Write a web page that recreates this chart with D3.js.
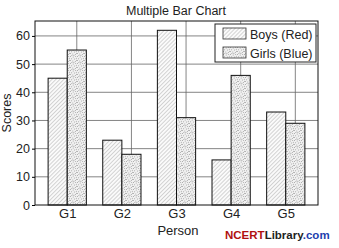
<!DOCTYPE html>
<html>
<head>
<meta charset="utf-8">
<script src="https://cdn.jsdelivr.net/npm/d3@7"></script>
<style>
  body { margin: 0; background: #fff; }
  svg text { font-family: "Liberation Sans", Arial, sans-serif; fill: #222; }
</style>
</head>
<body>
<div class="chart"></div>
<script>
// 資料
const persons = ['G1', 'G2', 'G3', 'G4', 'G5']
const boys = [45, 23, 62, 16, 33]
const girls = [55, 18, 31, 46, 29]
const yTicks = [0, 10, 20, 30, 40, 50, 60]
const seriesNames = ['Boys (Red)', 'Girls (Blue)']

const width = 339, height = 248
const mLeft = 35, mRight = 318, mTop = 21, mBottom = 205
const barW = 0.35

const svg = d3.select('.chart').append('svg')
  .attr('width', width).attr('height', height)

// 花紋
const defs = svg.append('defs')
const hatch = defs.append('pattern')
  .attr('id', 'hatch').attr('patternUnits', 'userSpaceOnUse')
  .attr('width', 2.8).attr('height', 2.8)
  .attr('patternTransform', 'rotate(45)')
hatch.append('rect').attr('width', 2.8).attr('height', 2.8).attr('fill', '#fafafa')
hatch.append('line').attr('x1', 0).attr('y1', 0).attr('x2', 0).attr('y2', 2.8)
  .attr('stroke', '#8a8a8a').attr('stroke-width', 0.7)

const dots = defs.append('pattern')
  .attr('id', 'dots').attr('patternUnits', 'userSpaceOnUse')
  .attr('width', 7).attr('height', 7)
dots.append('rect').attr('width', 7).attr('height', 7).attr('fill', '#f1f1f1')
const dotPos = [[0.5, 0.5], [3.2, 1.1], [5.6, 0.3], [1.6, 2.7], [4.4, 3.1], [6.3, 2.2],
  [0.4, 4.6], [2.8, 4.9], [5.3, 5.4], [1.9, 6.4], [3.9, 6.6], [6.5, 4.2]]
dots.selectAll('circle').data(dotPos).join('circle')
  .attr('cx', d => d[0]).attr('cy', d => d[1]).attr('r', 0.5).attr('fill', '#999')

const xScale = d3.scaleLinear().domain([0.41, 5.59]).range([mLeft, mRight])
const yScale = d3.scaleLinear().domain([0, 65.3]).range([mBottom, mTop])
const bw = xScale(1 + barW) - xScale(1)

// 格線
svg.append('g').selectAll('line').data(yTicks.slice(1)).join('line')
  .attr('x1', mLeft).attr('x2', mRight)
  .attr('y1', d => yScale(d)).attr('y2', d => yScale(d))
  .attr('stroke', '#666').attr('stroke-width', 0.8)
svg.append('g').selectAll('line').data(persons).join('line')
  .attr('x1', (d, i) => xScale(i + 1 + barW / 2)).attr('x2', (d, i) => xScale(i + 1 + barW / 2))
  .attr('y1', mTop).attr('y2', mBottom)
  .attr('stroke', '#666').attr('stroke-width', 0.8)

// 長條
const fills = ['url(#hatch)', 'url(#dots)']
const bars = svg.append('g').selectAll('g').data(persons).join('g')
bars.selectAll('rect')
  .data((d, i) => [
    { k: 0, x: i + 1 - barW, v: boys[i] },
    { k: 1, x: i + 1, v: girls[i] }
  ])
  .join('rect')
  .attr('x', d => xScale(d.x))
  .attr('y', d => yScale(d.v))
  .attr('width', bw)
  .attr('height', d => mBottom - yScale(d.v))
  .attr('fill', d => fills[d.k])
  .attr('stroke', '#111').attr('stroke-width', 1)

// 外框
svg.append('rect').attr('x', mLeft).attr('y', mTop)
  .attr('width', mRight - mLeft).attr('height', mBottom - mTop)
  .attr('fill', 'none').attr('stroke', '#111').attr('stroke-width', 1)

// 軸
const yAxis = d3.axisLeft(yScale).tickValues(yTicks).tickSize(3).tickPadding(2)
const yg = svg.append('g').attr('transform', `translate(${mLeft},0)`).call(yAxis)
yg.select('.domain').remove()
yg.selectAll('text').style('font-size', '12.5px').attr('fill', '#222')

const xAxis = d3.axisBottom(xScale).tickValues([1, 2, 3, 4, 5])
  .tickFormat((d, i) => persons[i]).tickSize(0).tickPadding(4)
const xg = svg.append('g').attr('transform', `translate(0,${mBottom})`).call(xAxis)
xg.select('.domain').remove()
xg.selectAll('text').style('font-size', '13px').attr('fill', '#222')

// 標題
svg.append('text').attr('x', 176).attr('y', 15)
  .attr('text-anchor', 'middle').style('font-size', '12.5px').text('Multiple Bar Chart')
svg.append('text').attr('x', 178).attr('y', 235)
  .attr('text-anchor', 'middle').style('font-size', '13px').text('Person')
svg.append('text').attr('transform', `translate(11,${(mTop + mBottom) / 2}) rotate(-90)`)
  .attr('text-anchor', 'middle').style('font-size', '12.5px').text('Scores')

// 圖例
const lg = svg.append('g')
lg.append('rect').attr('x', 215).attr('y', 24).attr('width', 101).attr('height', 38)
  .attr('fill', '#fff').attr('stroke', '#222').attr('stroke-width', 1)
const items = lg.selectAll('g').data(seriesNames).join('g')
  .attr('transform', (d, i) => `translate(223,${28 + i * 19})`)
items.append('rect').attr('width', 23).attr('height', 11)
  .attr('fill', (d, i) => fills[i]).attr('stroke', '#333').attr('stroke-width', 0.8)
items.append('text').attr('x', 27).attr('y', 10.5)
  .style('font-size', '12.5px').text(d => d)

// 浮水印
const wm = svg.append('text').attr('x', 225).attr('y', 239)
  .style('font-size', '11.5px').style('font-weight', 'bold')
wm.append('tspan').style('fill', '#b01010').text('NCERT')
wm.append('tspan').style('fill', '#222').text('Library')
wm.append('tspan').style('fill', '#1f3fae').text('.com')
</script>
</body>
</html>
